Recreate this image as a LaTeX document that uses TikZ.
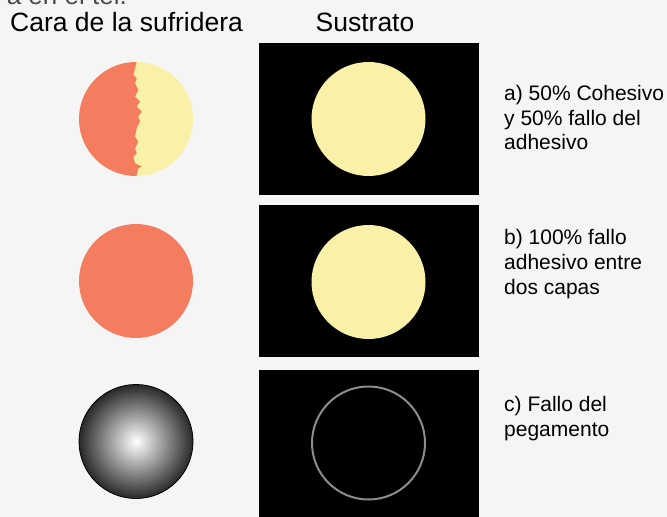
\documentclass[tikz,border=0pt]{standalone}
\usepackage{fontspec}
\setmainfont{Liberation Sans}
\definecolor{bg}{HTML}{F5F5F5}
\definecolor{salmon}{HTML}{F47D60}
\definecolor{pale}{HTML}{F8F1A7}
\definecolor{ring}{HTML}{8C8C8C}
\definecolor{fragc}{HTML}{4A4A4A}
\pgfdeclareradialshading{sufball}{\pgfpoint{0bp}{0bp}}{color(0bp)=(white); color(25bp)=(black!84); color(50bp)=(black!84)}
\begin{document}
\begin{tikzpicture}[x=1bp,y=-1bp,
  title/.style={font=\fontsize{26.5bp}{30bp}\selectfont, inner sep=0, anchor=base},
  caption/.style={font=\fontsize{21bp}{24.5bp}\selectfont, inner sep=0, align=left, anchor=base west},
  subbox/.style={fill=black, inner sep=0, minimum width=220bp, minimum height=152bp},
  disc/.style={circle, inner sep=0, minimum size=114bp},
]
\useasboundingbox[fill=bg] (0,0) rectangle (667,517);

% cut-off text at the top
\node[font=\fontsize{26bp}{30bp}\selectfont, text=fragc, inner sep=0, anchor=base east] (frag) at (127,4.5) {a en el tel.};

% titles
\node[title, anchor=base west] (t1) at (10,32) {Cara de la sufridera};
\node[title] (t2) at (365,32) {Sustrato};

% substrate boxes
\node[subbox] (s1) at (369,119) {};
\node[subbox] (s2) at (369,281) {};
\node[subbox, minimum height=160bp] (s3) at (369,450) {};

% substrate circles
\node[disc, fill=pale] (sc1) at (368.5,119) {};
\node[disc, fill=pale] (sc2) at (368.5,282) {};
\node[disc, draw=ring, line width=2bp, minimum size=113bp] (sc3) at (368.5,443) {};

% face circles
\node[disc, fill=pale] (fc1) at (136,119) {};
\begin{scope}
  \clip (136,119) circle (57);
  \fill[salmon] (70,50) -- (136.7,50) -- (136.7,61.7) -- (133.3,75) -- (136.7,78.3) -- (135,83.3)
    -- (138.3,90) -- (135,96.7) -- (140,101.7) -- (136.7,106.7) -- (141.7,111.7) -- (138.3,116.7)
    -- (140,121.7) -- (136.7,128.3) -- (135,136.7) -- (138.3,141.7) -- (135,148.3) -- (136.7,153.3)
    -- (133.3,156.7) -- (135,163.3) -- (141.7,166.7) -- (138.3,168.3) -- (136.7,175) -- (136.7,190)
    -- (70,190) -- cycle;
\end{scope}
\node[disc, fill=salmon] (fc2) at (136,281) {};
\node[disc, shading=sufball, draw=black, line width=0.8bp] (fc3) at (136,441.5) {};

% captions (anchor = baseline of the last line)
\node[caption] (la) at (504,150) {a) 50\% Cohesivo\\y 50\% fallo del\\adhesivo};
\node[caption] (lb) at (504,294) {b) 100\% fallo\\adhesivo entre\\dos capas};
\node[caption] (lc) at (504,436) {c) Fallo del\\pegamento};
\end{tikzpicture}
\end{document}
